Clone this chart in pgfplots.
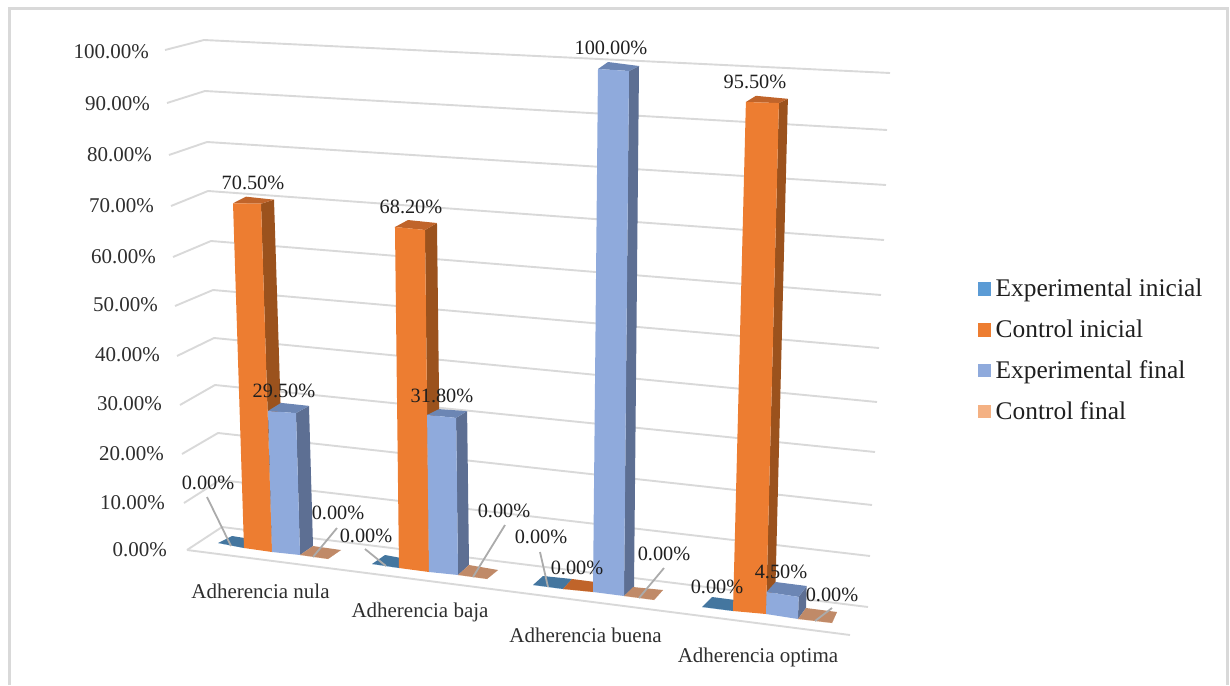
\documentclass[border=0pt]{standalone}
\usepackage{fontspec}
\setmainfont{Liberation Serif}
\usepackage{pgfplots}
\pgfplotsset{compat=1.18}
\pgfkeys{/pgf/number format/.cd,fixed,fixed zerofill,precision=2,assume math mode=true}

\definecolor{expA}{HTML}{5B9BD5}
\definecolor{expAtop}{HTML}{44769F}
\definecolor{ctlA}{HTML}{ED7D31}
\definecolor{ctlAtop}{HTML}{C0642A}
\definecolor{ctlAside}{HTML}{9B521D}
\definecolor{expB}{HTML}{8FAADC}
\definecolor{expBtop}{HTML}{6C86B4}
\definecolor{expBside}{HTML}{5D6F93}
\definecolor{ctlB}{HTML}{F4B183}
\definecolor{ctlBtop}{HTML}{C08A68}
\definecolor{gridc}{HTML}{D9D9D9}
\definecolor{leader}{HTML}{ABABAB}

% Perspective floor footprint of a bar: front-left, front-right, back-right, back-left
\def\setbase(#1,#2)(#3,#4)(#5,#6)(#7,#8){%
  \def\FLx{#1}\def\FLy{#2}\def\FRx{#3}\def\FRy{#4}%
  \def\BRx{#5}\def\BRy{#6}\def\BLx{#7}\def\BLy{#8}}
% Displacement of the footprint at 100%: dx, dy front-left, dy front-right, dy back
\def\setrise(#1,#2,#3,#4){\def\Vx{#1}\def\VL{#2}\def\VR{#3}\def\VB{#4}}

\newcommand\facet[2]{%
  \edef\tmpfacet{\noexpand\addplot[fill=#1,draw=none,forget plot] coordinates {#2} --cycle;}%
  \tmpfacet}

% #1 value in percent, #2 front, #3 side, #4 top colour
\newcommand\drawbar[4]{%
  \pgfmathsetmacro\hh{#1/100}%
  \pgfmathsetmacro\ax{\FLx+\hh*\Vx}\pgfmathsetmacro\ay{\FLy+\hh*\VL}%
  \pgfmathsetmacro\bx{\FRx+\hh*\Vx}\pgfmathsetmacro\by{\FRy+\hh*\VR}%
  \pgfmathsetmacro\cx{\BRx+\hh*\Vx}\pgfmathsetmacro\cy{\BRy+\hh*\VB}%
  \pgfmathsetmacro\dx{\BLx+\hh*\Vx}\pgfmathsetmacro\dy{\BLy+\hh*\VB}%
  \facet{#3}{(\FRx,\FRy)(\BRx,\BRy)(\cx,\cy)(\bx,\by)}%
  \facet{#4}{(\ax,\ay)(\bx,\by)(\cx,\cy)(\dx,\dy)}%
  \facet{#2}{(\FLx,\FLy)(\FRx,\FRy)(\bx,\by)(\ax,\ay)}%
}

\newcommand\gridline[6]{%
  \addplot[gridc,line width=1.9pt,forget plot] coordinates {(#1,#2)(#3,#4)(#5,#6)};}
\newcommand\leaderline[4]{%
  \addplot[leader,line width=1.8pt,forget plot] coordinates {(#1,#2)(#3,#4)};}
\newcommand\valuelabel[3]{%
  \node[font=\fontsize{20.3}{22}\selectfont,text=black!88,inner sep=0pt] at (axis cs:#2,#3)
    {\pgfmathprintnumber{#1}\%};}
\newcommand\ticklabel[3]{%
  \node[font=\fontsize{21}{23}\selectfont,text=black!82,anchor=east,inner sep=0pt] at (axis cs:#2,#3)
    {\pgfmathprintnumber{#1}\%};}
\newcommand\catlabel[3]{%
  \node[font=\fontsize{21}{23}\selectfont,text=black!82,inner sep=0pt] at (axis cs:#2,#3) {#1};}

\begin{document}
\begin{tikzpicture}
\useasboundingbox (0,0) rectangle (1230pt,685pt);
\begin{axis}[
  at={(0,0)},anchor=south west,
  scale only axis,width=1230pt,height=685pt,
  xmin=0,xmax=1230,ymin=0,ymax=685,y dir=reverse,
  hide axis,clip=false,
  legend cell align=left,
  legend style={draw=none,fill=none,at={(0.887,0.489)},anchor=center,
    font=\fontsize{25.4}{27}\selectfont,text=black!88,row sep=17.5pt,
    /tikz/every odd column/.append style={column sep=3pt}},
  legend image code/.code={\fill[#1] (0pt,-6.3pt) rectangle (12.6pt,6.3pt);},
]
% Chart frame
\draw[gridc,line width=2.4pt] (axis cs:9.5,685) -- (axis cs:9.5,8.5) -- (axis cs:1227.5,8.5) -- (axis cs:1227.5,685);

% Walls: horizontal grid of the value axis
\gridline{165}{50}{204}{40}{890}{73}
\gridline{167}{103}{205}{91}{887}{130}
\gridline{169}{155}{207}{142}{886}{185}
\gridline{171}{206}{208}{191}{884}{240}
\gridline{173}{257}{211}{241}{881}{295}
\gridline{175}{306}{213}{290}{879}{348}
\gridline{177}{356}{214}{338}{877}{402}
\gridline{180}{405}{215}{385}{875}{452}
\gridline{182}{454}{218}{433}{872}{505}
\gridline{184}{503}{220}{480}{870}{556}
\gridline{187}{550}{222}{527}{868}{607}
\addplot[gridc,line width=1.9pt,forget plot] coordinates {(187,550)(850,635)};

% Adherencia nula
\setrise(-15,-485,-490,-483)
\setbase(218,543)(244,548)(257,540)(232,536)
\drawbar{0}{expA}{expAtop}{expAtop}
\setrise(-15.6,-489,-494,-487)
\setbase(244,548)(272,552)(285,543)(257,540)
\drawbar{70.5}{ctlA}{ctlAside}{ctlAtop}
\setrise(-13.6,-478,-481,-475)
\setbase(272,552)(300,555)(313,546)(285,543)
\drawbar{29.5}{expB}{expBside}{expBtop}
\setrise(-13,-480,-480,-480)
\setbase(300,555)(328,559)(341,550)(313,546)
\drawbar{0}{ctlB}{ctlBtop}{ctlBtop}

% Adherencia baja
\setbase(372,564)(399,568)(412,560)(385,555)
\drawbar{0}{expA}{expAtop}{expAtop}
\setrise(-5.9,-500,-501.5,-498.5)
\setbase(399,568)(429,572)(441,563)(412,560)
\drawbar{68.2}{ctlA}{ctlAside}{ctlAtop}
\setrise(-6,-494,-494,-484)
\setbase(429,572)(458,575)(469,565)(441,563)
\drawbar{31.8}{expB}{expBside}{expBtop}
\setbase(458,575)(487,579)(498,570)(469,565)
\drawbar{0}{ctlB}{ctlBtop}{ctlBtop}

% Adherencia buena
\setrise(5,-523,-525,-521)
\setbase(533,585)(563,589)(572,579)(543,576)
\drawbar{0}{expA}{expAtop}{expAtop}
\setbase(563,589)(593,592)(603,583)(572,579)
\drawbar{0}{ctlA}{ctlAside}{ctlAtop}
\setbase(593,592)(624,596)(634,587)(603,583)
\drawbar{100}{expB}{expBside}{expBtop}
\setbase(624,596)(654,600)(663,590)(633,587)
\drawbar{0}{ctlB}{ctlBtop}{ctlBtop}

% Adherencia optima
\setrise(13.5,-533,-535,-529)
\setbase(702,607)(733,611)(743,601)(712,597)
\drawbar{0}{expA}{expAtop}{expAtop}
\setbase(733,611)(766,614)(775,604)(743,601)
\drawbar{95.5}{ctlA}{ctlAside}{ctlAtop}
\setrise(13.5,-490,-490,-489)
\setbase(766,614)(798,619)(806,608)(775,604)
\drawbar{4.5}{expB}{expBside}{expBtop}
\setbase(798,619)(832,623)(837,612)(806,608)
\drawbar{0}{ctlB}{ctlBtop}{ctlBtop}

% Leader lines of the displaced labels
\leaderline{207}{497}{231}{546}
\leaderline{337}{528}{313}{557}
\leaderline{365}{549}{386}{566}
\leaderline{505}{525}{473}{577}
\leaderline{540}{552}{548}{587}
\leaderline{664}{568}{639}{598}
\leaderline{832}{608}{815}{621}

% Value axis labels
\ticklabel{100}{149}{52}
\ticklabel{90}{150}{104}
\ticklabel{80}{152}{155}
\ticklabel{70}{154}{206}
\ticklabel{60}{156}{257}
\ticklabel{50}{158}{305}
\ticklabel{40}{160}{355}
\ticklabel{30}{162}{404}
\ticklabel{20}{164}{454}
\ticklabel{10}{165}{503}
\ticklabel{0}{167}{550}

% Category labels
\catlabel{Adherencia nula}{260.5}{591}
\catlabel{Adherencia baja}{420}{612}
\catlabel{Adherencia buena}{585.5}{635}
\catlabel{Adherencia optima}{758}{657}

% Data labels
\valuelabel{70.5}{253}{183}
\valuelabel{68.2}{411}{207}
\valuelabel{100}{611}{48}
\valuelabel{95.5}{755}{82}
\valuelabel{29.5}{284}{391}
\valuelabel{31.8}{442}{396}
\valuelabel{4.5}{781}{572}
\valuelabel{0}{208}{483}
\valuelabel{0}{338}{513}
\valuelabel{0}{366}{536}
\valuelabel{0}{504}{511}
\valuelabel{0}{541}{537}
\valuelabel{0}{577}{568}
\valuelabel{0}{664}{554}
\valuelabel{0}{717}{587}
\valuelabel{0}{832}{595}

\addlegendimage{expA}
\addlegendimage{ctlA}
\addlegendimage{expB}
\addlegendimage{ctlB}
\legend{Experimental inicial,Control inicial,Experimental final,Control final}
\end{axis}
\end{tikzpicture}
\end{document}
